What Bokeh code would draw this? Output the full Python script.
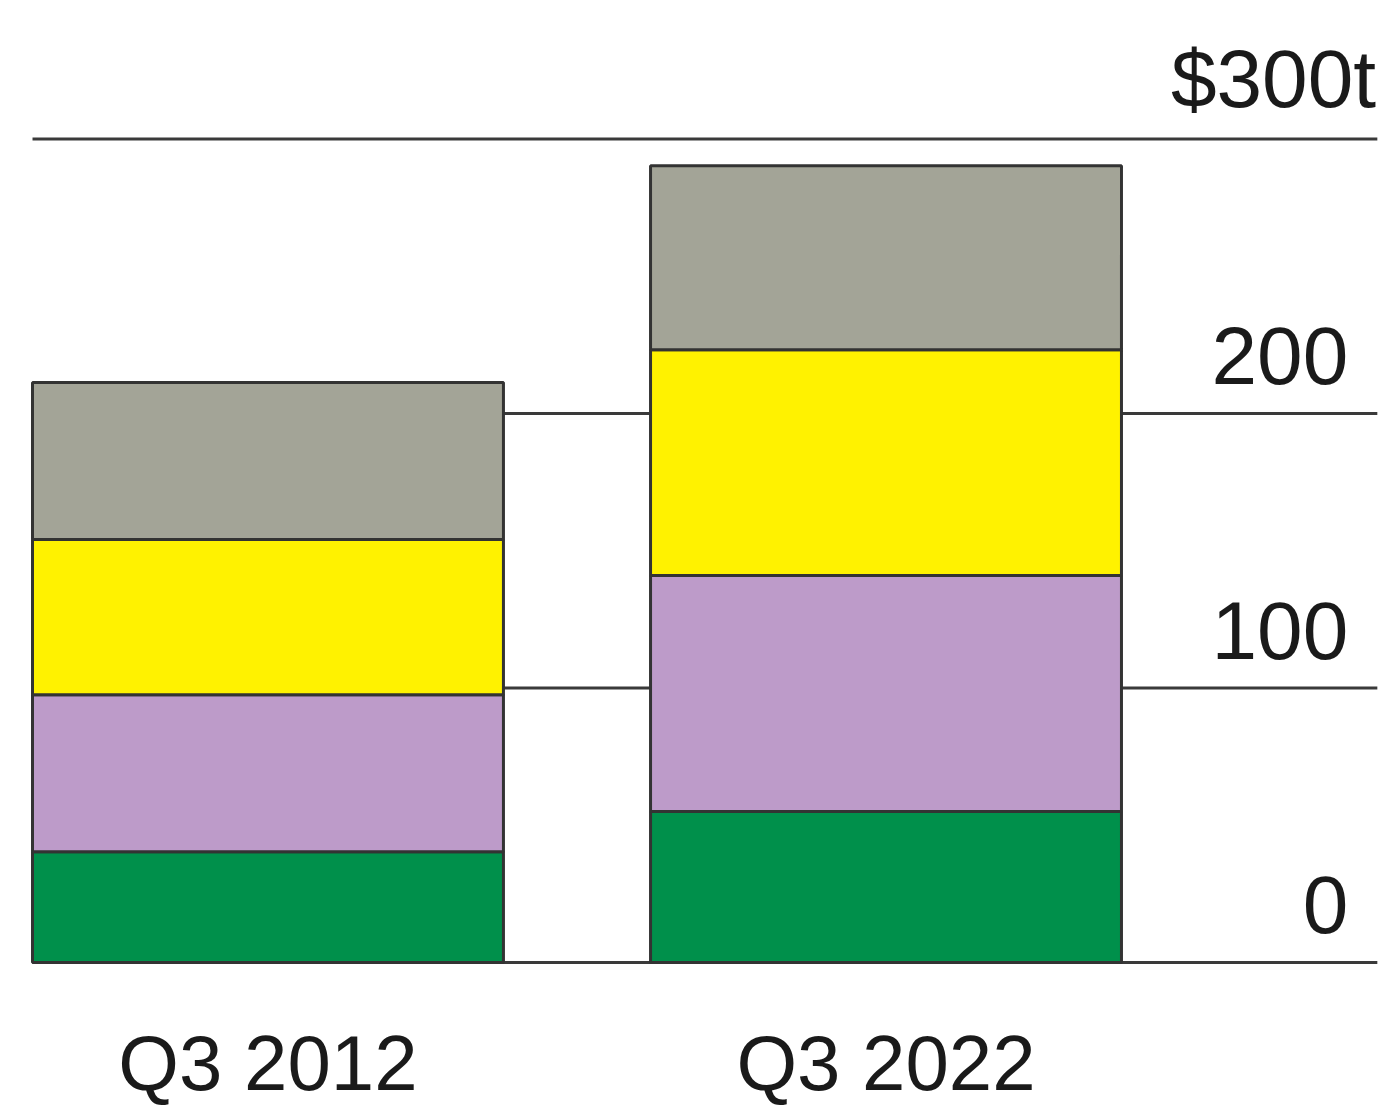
from bokeh.plotting import figure
from bokeh.models import ColumnDataSource, Range1d
from bokeh.core.properties import value
from bokeh.embed import file_html
from bokeh.resources import INLINE

# ---- data ----
categories = ["Q3 2012", "Q3 2022"]
green = [40.4, 55.0]
purple = [57.2, 86.0]
yellow = [56.5, 82.3]
gray = [57.2, 67.0]
tick_values = [0, 100, 200, 300]
tick_labels = ["0", "100", "200", "$300t"]

series = ["green", "purple", "yellow", "gray"]
colors = ["#00904b", "#bd9bc9", "#fff200", "#a3a497"]

xs = list(range(len(categories)))
src = ColumnDataSource(dict(x=xs, base=[0] * len(xs), green=green, purple=purple,
                            yellow=yellow, gray=gray, cat=categories))

p = figure(width=1384, height=1107, output_backend="svg", toolbar_location=None,
           x_range=Range1d(-0.4328, 1.8066), y_range=Range1d(-52.8, 350.5),
           min_border=0, outline_line_color=None)
p.xaxis.visible = False
p.yaxis.visible = False
p.xgrid.visible = False
p.ygrid.visible = False
p.background_fill_color = "white"

FONT = value("Liberation Sans")

# gridlines
x0, x1 = -0.381, 1.795
p.segment(x0=[x0] * len(tick_values), x1=[x1] * len(tick_values), y0=tick_values, y1=tick_values,
          line_color="#3a3a3a", line_width=3)

# bars
p.vbar_stack(series, x="x", width=0.762, color=colors, line_color="#333333", line_width=3, source=src)

# y labels
p.text(x=[1.748] * 3, y=tick_values[:3], text=tick_labels[:3], text_align="right",
       text_baseline="alphabetic", y_offset=-58, text_font=FONT, text_font_size="82px",
       text_color="#1a1a1a")
p.text(x=[1.793], y=tick_values[3:], text=tick_labels[3:], text_align="right",
       text_baseline="alphabetic", y_offset=-61, text_font=FONT, text_font_size="82px",
       text_color="#1a1a1a")

# category labels
p.text(x="x", y="base", text="cat", source=src, text_align="center", text_baseline="alphabetic",
       y_offset=100, text_font=FONT, text_font_size="78px", text_color="#1a1a1a")

open("out.html", "w").write(file_html(p, INLINE))
